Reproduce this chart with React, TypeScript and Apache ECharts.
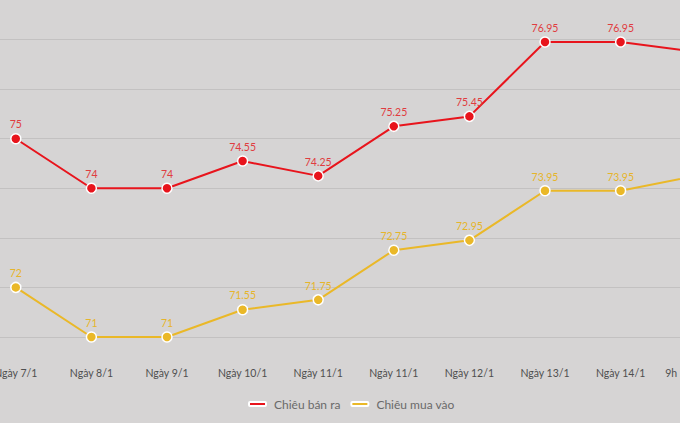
import React, { useEffect, useRef } from "react";
import * as echarts from "echarts";

const categories = ["Ngày 7/1", "Ngày 8/1", "Ngày 9/1", "Ngày 10/1", "Ngày 11/1", "Ngày 11/1", "Ngày 12/1", "Ngày 13/1", "Ngày 14/1", "9h ngày 15/1"];
const sellValues = [75, 74, 74, 74.55, 74.25, 75.25, 75.45, 76.95, 76.95, 76.75];
const buyValues = [72, 71, 71, 71.55, 71.75, 72.75, 72.95, 73.95, 73.95, 74.25];
const seriesNames = ["Chiêu bán ra", "Chiêu mua vào"];

const RED = "#e8141c";
const YELLOW = "#eab828";
const FONT = "Lato, sans-serif";

export default function App() {
  const ref = useRef<HTMLDivElement>(null);
  useEffect(() => {
    if (!ref.current) return;
    const chart = echarts.init(ref.current, undefined, { renderer: "svg" });
    const mkSeries = (name: string, data: number[], color: string, labelColor: string) => ({
      name,
      type: "line",
      data,
      symbol: "circle",
      symbolSize: 10,
      lineStyle: { color, width: 2 },
      itemStyle: { color, borderColor: "#ffffff", borderWidth: 1.5 },
      label: {
        show: true,
        position: "top",
        distance: 3,
        color: labelColor,
        fontFamily: FONT,
        fontSize: 10.5,
      },
    });
    chart.setOption({
      animation: false,
      backgroundColor: "#d6d4d4",
      grid: { left: 0, right: 0, top: 0, bottom: 86, containLabel: false },
      legend: {
        left: 265,
        top: 403,
        icon: "roundRect",
        itemWidth: 17,
        itemHeight: 4,
        itemGap: 10,
        textStyle: { color: "#6a6a6a", fontFamily: FONT, fontSize: 12, padding: [0, 0, 0, 3] },
        data: seriesNames,
      },
      xAxis: {
        type: "category",
        data: categories,
        boundaryGap: true,
        axisLine: { show: false },
        axisTick: { show: false },
        axisLabel: { color: "#4f4f4f", fontFamily: FONT, fontSize: 10.5, margin: 30, interval: 0 },
      },
      yAxis: {
        type: "value",
        min: 71,
        max: 78,
        interval: 1,
        axisLabel: { show: false },
        axisLine: { show: false },
        axisTick: { show: false },
        splitLine: { lineStyle: { color: "#c3c1c1", width: 1 } },
      },
      series: [
        mkSeries(seriesNames[0], sellValues, RED, "#e03c40"),
        mkSeries(seriesNames[1], buyValues, YELLOW, "#e6b42a"),
      ],
    });
    return () => chart.dispose();
  }, []);
  return (
    <div style={{ position: "fixed", left: 0, top: 0, width: 680, height: 423, overflow: "hidden", background: "#d6d4d4" }}>
      <div
        ref={ref}
        style={{ position: "absolute", left: -22, top: -10, width: 756, height: 433 }}
      />
    </div>
  );
}
